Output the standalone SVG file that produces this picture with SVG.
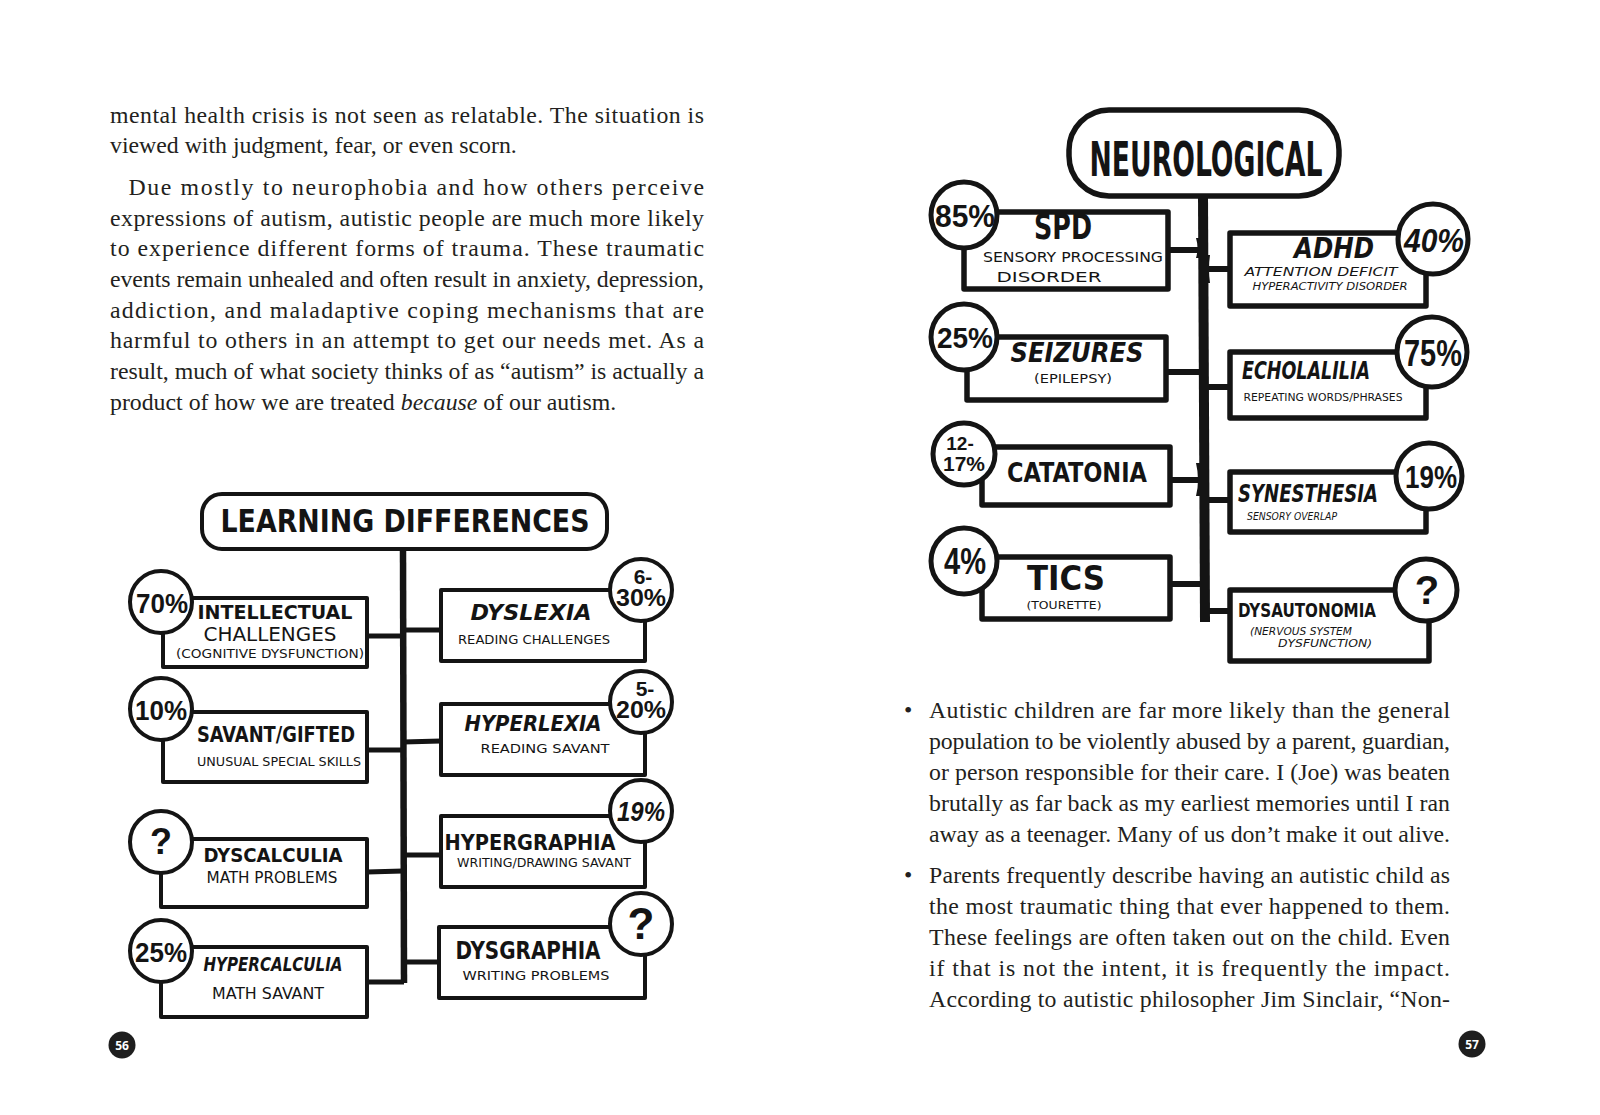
<svg xmlns="http://www.w3.org/2000/svg" width="1600" height="1115" viewBox="0 0 1600 1115">
<style>
.page{fill:#ffffff}
.body{font-family:"Liberation Serif","Times New Roman",serif;font-size:23.8px;fill:#231f20}
.box{fill:#ffffff;stroke:#141414;stroke-width:4;stroke-linejoin:round}
.rbox{fill:#ffffff;stroke:#141414;stroke-width:5.5;stroke-linejoin:round}
.badge{fill:#ffffff;stroke:#141414;stroke-width:4}
.rbadge{fill:#ffffff;stroke:#141414;stroke-width:5}
.conn{fill:none;stroke:#141414;stroke-linecap:butt}
.h{font-family:"DejaVu Sans Condensed","Liberation Sans Narrow","DejaVu Sans",sans-serif;font-weight:bold;fill:#141414;text-anchor:middle}
.s{font-family:"DejaVu Sans Condensed","Liberation Sans Narrow","DejaVu Sans",sans-serif;font-weight:normal;fill:#141414;text-anchor:middle}
.pc{font-family:"Liberation Sans","DejaVu Sans",sans-serif;font-weight:bold;fill:#141414;text-anchor:middle}
.pn{fill:#1e1e1e}
.pnt{font-family:"Open Sans","Liberation Sans",sans-serif;font-weight:bold;font-size:12px;fill:#ffffff;text-anchor:middle}
</style>
<rect class="page" x="0" y="0" width="1600" height="1115"/>

<!-- Left page body text -->
<g id="left-text" class="body">
<text x="110" y="123" textLength="594" lengthAdjust="spacing">mental health crisis is not seen as relatable. The situation is</text>
<text x="110" y="153">viewed with judgment, fear, or even scorn.</text>
<text x="128.5" y="195" textLength="575.5" lengthAdjust="spacing">Due mostly to neurophobia and how others perceive</text>
<text x="110" y="225.5" textLength="594" lengthAdjust="spacing">expressions of autism, autistic people are much more likely</text>
<text x="110" y="256" textLength="594" lengthAdjust="spacing">to experience different forms of trauma. These traumatic</text>
<text x="110" y="286.5" textLength="594" lengthAdjust="spacing">events remain unhealed and often result in anxiety, depression,</text>
<text x="110" y="317.5" textLength="594" lengthAdjust="spacing">addiction, and maladaptive coping mechanisms that are</text>
<text x="110" y="348" textLength="594" lengthAdjust="spacing">harmful to others in an attempt to get our needs met. As a</text>
<text x="110" y="379" textLength="594" lengthAdjust="spacing">result, much of what society thinks of as “autism” is actually a</text>
<text x="110" y="410">product of how we are treated <tspan font-style="italic">because</tspan> of our autism.</text>
</g>

<!-- Right page body text -->
<g id="right-text" class="body">
<text x="904" y="718">•</text>
<text x="929" y="718" textLength="521" lengthAdjust="spacing">Autistic children are far more likely than the general</text>
<text x="929" y="749" textLength="521" lengthAdjust="spacing">population to be violently abused by a parent, guardian,</text>
<text x="929" y="780" textLength="521" lengthAdjust="spacing">or person responsible for their care. I (Joe) was beaten</text>
<text x="929" y="811" textLength="521" lengthAdjust="spacing">brutally as far back as my earliest memories until I ran</text>
<text x="929" y="842" textLength="521" lengthAdjust="spacing">away as a teenager. Many of us don’t make it out alive.</text>
<text x="904" y="883">•</text>
<text x="929" y="883" textLength="521" lengthAdjust="spacing">Parents frequently describe having an autistic child as</text>
<text x="929" y="914" textLength="521" lengthAdjust="spacing">the most traumatic thing that ever happened to them.</text>
<text x="929" y="945" textLength="521" lengthAdjust="spacing">These feelings are often taken out on the child. Even</text>
<text x="929" y="976" textLength="521" lengthAdjust="spacing">if that is not the intent, it is frequently the impact.</text>
<text x="929" y="1007" textLength="521" lengthAdjust="spacing">According to autistic philosopher Jim Sinclair, “Non-</text>
</g>

<!-- Connectors -->
<g id="connectors">
<path class="conn" stroke-width="6.5" d="M403 549 L404 983"/>
<path class="conn" stroke-width="5" d="M367 636 L403 636"/>
<path class="conn" stroke-width="5" d="M367 750 L403 750"/>
<path class="conn" stroke-width="5" d="M367 872 L403 871"/>
<path class="conn" stroke-width="5" d="M367 982 L404 982"/>
<path class="conn" stroke-width="5" d="M403 630 L441 630"/>
<path class="conn" stroke-width="5" d="M403 742 L441 741"/>
<path class="conn" stroke-width="5" d="M403 855 L441 855"/>
<path class="conn" stroke-width="5" d="M404 962 L439 962"/>
<path class="conn" stroke-width="10" d="M1203 196 L1205 622"/>
<path class="conn" stroke-width="6" d="M1168 250 L1203 250"/>
<path class="conn" stroke-width="6" d="M1166 372 L1204 372"/>
<path class="conn" stroke-width="6" d="M1170 480 L1204 480"/>
<path class="conn" stroke-width="6" d="M1170 584 L1205 584"/>
<path class="conn" stroke-width="6" d="M1204 269 L1230 269"/>
<path class="conn" stroke-width="6" d="M1204 387 L1230 387"/>
<path class="conn" stroke-width="6" d="M1204 500 L1230 500"/>
<path class="conn" stroke-width="6" d="M1205 611 L1230 611"/>
<path fill="#141414" d="M1196 238 Q1199 248 1196 258 L1200 258 L1200 238 Z M1196 463 Q1200 480 1196 496 L1200 496 L1200 463 Z M1210 255 Q1208 269 1210 283 L1206 283 L1206 255 Z"/>
</g>

<!-- Learning Differences diagram -->
<g id="learning-differences">
<rect class="box" x="202" y="494" width="405" height="55" rx="20"/>
<text class="h" x="405" y="532" font-size="32" textLength="369" lengthAdjust="spacingAndGlyphs">LEARNING DIFFERENCES</text>
</g>

<g id="intellectual-challenges">
<rect class="box" x="163" y="598" width="204" height="69"/>
<text class="h" x="275" y="619" font-size="20" textLength="155" lengthAdjust="spacingAndGlyphs">INTELLECTUAL</text>
<text class="s" x="270" y="641" font-size="19" textLength="133" lengthAdjust="spacingAndGlyphs">CHALLENGES</text>
<text class="s" x="270" y="658" font-size="13" textLength="188" lengthAdjust="spacingAndGlyphs">(COGNITIVE DYSFUNCTION)</text>
<circle class="badge" cx="161" cy="602" r="31"/>
<text class="pc" x="162" y="613" font-size="28" textLength="52" lengthAdjust="spacingAndGlyphs">70%</text>
</g>

<g id="savant-gifted">
<rect class="box" x="163" y="712" width="204" height="70"/>
<text class="h" x="276" y="742" font-size="22" textLength="158" lengthAdjust="spacingAndGlyphs">SAVANT/GIFTED</text>
<text class="s" x="279" y="766" font-size="13" textLength="164" lengthAdjust="spacingAndGlyphs">UNUSUAL SPECIAL SKILLS</text>
<circle class="badge" cx="161" cy="709" r="31"/>
<text class="pc" x="161" y="720" font-size="28" textLength="52" lengthAdjust="spacingAndGlyphs">10%</text>
</g>

<g id="dyscalculia">
<rect class="box" x="161" y="839" width="206" height="68"/>
<text class="h" x="273" y="862" font-size="20" textLength="139" lengthAdjust="spacingAndGlyphs">DYSCALCULIA</text>
<text class="s" x="272" y="883" font-size="15" textLength="131" lengthAdjust="spacingAndGlyphs">MATH PROBLEMS</text>
<circle class="badge" cx="161" cy="842" r="31"/>
<text class="pc" x="161" y="854" font-size="36">?</text>
</g>

<g id="hypercalculia">
<rect class="box" x="161" y="947" width="206" height="70"/>
<text class="h" x="273" y="971" font-size="20" font-style="italic" textLength="139" lengthAdjust="spacingAndGlyphs">HYPERCALCULIA</text>
<text class="s" x="268" y="999" font-size="16" textLength="112" lengthAdjust="spacingAndGlyphs">MATH SAVANT</text>
<circle class="badge" cx="161" cy="951" r="31"/>
<text class="pc" x="161" y="962" font-size="28" textLength="52" lengthAdjust="spacingAndGlyphs">25%</text>
</g>

<g id="dyslexia">
<rect class="box" x="441" y="590" width="204" height="71"/>
<text class="h" x="531" y="620" font-size="22" font-style="italic" textLength="121" lengthAdjust="spacingAndGlyphs">DYSLEXIA</text>
<text class="s" x="534" y="644" font-size="13" textLength="152" lengthAdjust="spacingAndGlyphs">READING CHALLENGES</text>
<circle class="badge" cx="641" cy="590" r="31"/>
<text class="pc" x="643" y="584" font-size="21">6-</text>
<text class="pc" x="641" y="606" font-size="23" textLength="50" lengthAdjust="spacingAndGlyphs">30%</text>
</g>

<g id="hyperlexia">
<rect class="box" x="441" y="704" width="204" height="71"/>
<text class="h" x="533" y="731" font-size="22" font-style="italic" textLength="137" lengthAdjust="spacingAndGlyphs">HYPERLEXIA</text>
<text class="s" x="545" y="753" font-size="13" textLength="129" lengthAdjust="spacingAndGlyphs">READING SAVANT</text>
<circle class="badge" cx="641" cy="702" r="31"/>
<text class="pc" x="645" y="696" font-size="21">5-</text>
<text class="pc" x="641" y="718" font-size="23" textLength="50" lengthAdjust="spacingAndGlyphs">20%</text>
</g>

<g id="hypergraphia">
<rect class="box" x="441" y="816" width="204" height="71"/>
<text class="h" x="530" y="850" font-size="22" textLength="171" lengthAdjust="spacingAndGlyphs">HYPERGRAPHIA</text>
<text class="s" x="544" y="867" font-size="12" textLength="174" lengthAdjust="spacingAndGlyphs">WRITING/DRAWING SAVANT</text>
<circle class="badge" cx="641" cy="811" r="31"/>
<text class="pc" x="641" y="821" font-size="27" font-style="italic" textLength="48" lengthAdjust="spacingAndGlyphs">19%</text>
</g>

<g id="dysgraphia">
<rect class="box" x="439" y="927" width="206" height="71"/>
<text class="h" x="528" y="959" font-size="24" textLength="145" lengthAdjust="spacingAndGlyphs">DYSGRAPHIA</text>
<text class="s" x="536" y="980" font-size="13" textLength="147" lengthAdjust="spacingAndGlyphs">WRITING PROBLEMS</text>
<circle class="badge" cx="641" cy="924" r="31"/>
<text class="pc" x="641" y="939" font-size="44">?</text>
</g>

<!-- Neurological diagram -->
<g id="neurological">
<rect class="rbox" x="1069" y="110" width="270" height="86" rx="40" stroke-width="6"/>
<text class="h" x="1206" y="176" font-size="48" textLength="233" lengthAdjust="spacingAndGlyphs">NEUROLOGICAL</text>
</g>

<g id="spd">
<rect class="rbox" x="964" y="212" width="204" height="77"/>
<text class="h" x="1063" y="239" font-size="35" textLength="58" lengthAdjust="spacingAndGlyphs">SPD</text>
<text class="s" x="1073" y="262" font-size="14" textLength="180" lengthAdjust="spacingAndGlyphs">SENSORY PROCESSING</text>
<text class="s" x="1049" y="282" font-size="14" textLength="105" lengthAdjust="spacingAndGlyphs">DISORDER</text>
<circle class="rbadge" cx="964" cy="215" r="33"/>
<text class="pc" x="965" y="227" font-size="32" font-weight="normal" textLength="60" lengthAdjust="spacingAndGlyphs">85%</text>
</g>

<g id="seizures">
<rect class="rbox" x="967" y="337" width="199" height="63"/>
<text class="h" x="1077" y="362" font-size="26" font-style="italic" textLength="133" lengthAdjust="spacingAndGlyphs">SEIZURES</text>
<text class="s" x="1073" y="383" font-size="13" textLength="78" lengthAdjust="spacingAndGlyphs">(EPILEPSY)</text>
<circle class="rbadge" cx="964" cy="337" r="33"/>
<text class="pc" x="965" y="348" font-size="29" font-weight="normal" textLength="56" lengthAdjust="spacingAndGlyphs">25%</text>
</g>

<g id="catatonia">
<rect class="rbox" x="982" y="447" width="188" height="58"/>
<text class="h" x="1077" y="482" font-size="26" textLength="140" lengthAdjust="spacingAndGlyphs">CATATONIA</text>
<circle class="rbadge" cx="964" cy="454" r="31"/>
<text class="pc" x="960" y="450" font-size="19" font-weight="normal">12-</text>
<text class="pc" x="964" y="471" font-size="21" font-weight="normal" textLength="42" lengthAdjust="spacingAndGlyphs">17%</text>
</g>

<g id="tics">
<rect class="rbox" x="982" y="557" width="188" height="62"/>
<text class="h" x="1066" y="590" font-size="34" textLength="78" lengthAdjust="spacingAndGlyphs">TICS</text>
<text class="s" x="1064" y="609" font-size="11" textLength="75" lengthAdjust="spacingAndGlyphs">(TOURETTE)</text>
<circle class="rbadge" cx="964" cy="561" r="33"/>
<text class="pc" x="965" y="574" font-size="36" font-weight="normal" textLength="42" lengthAdjust="spacingAndGlyphs">4%</text>
</g>

<g id="adhd">
<rect class="rbox" x="1230" y="233" width="196" height="73"/>
<text class="h" x="1334" y="258" font-size="28" font-style="italic" textLength="80" lengthAdjust="spacingAndGlyphs">ADHD</text>
<text class="s" x="1321" y="276" font-size="13" font-style="italic" textLength="153" lengthAdjust="spacingAndGlyphs">ATTENTION DEFICIT</text>
<text class="s" x="1330" y="290" font-size="11" font-style="italic" textLength="155" lengthAdjust="spacingAndGlyphs">HYPERACTIVITY DISORDER</text>
<circle class="rbadge" cx="1433" cy="239" r="35"/>
<text class="pc" x="1434" y="252" font-size="34" font-weight="normal" font-style="italic" textLength="60" lengthAdjust="spacingAndGlyphs">40%</text>
</g>

<g id="echolalilia">
<rect class="rbox" x="1230" y="352" width="196" height="66"/>
<text class="h" x="1306" y="379" font-size="24" font-style="italic" textLength="128" lengthAdjust="spacingAndGlyphs">ECHOLALILIA</text>
<text class="s" x="1323" y="401" font-size="10" textLength="159" lengthAdjust="spacingAndGlyphs">REPEATING WORDS/PHRASES</text>
<circle class="rbadge" cx="1432" cy="352" r="35"/>
<text class="pc" x="1433" y="366" font-size="36" font-weight="normal" textLength="58" lengthAdjust="spacingAndGlyphs">75%</text>
</g>

<g id="synesthesia">
<rect class="rbox" x="1230" y="472" width="196" height="60"/>
<text class="h" x="1308" y="502" font-size="24" font-style="italic" textLength="140" lengthAdjust="spacingAndGlyphs">SYNESTHESIA</text>
<text class="s" x="1292" y="520" font-size="11" font-style="italic" textLength="90" lengthAdjust="spacingAndGlyphs">SENSORY OVERLAP</text>
<circle class="rbadge" cx="1429" cy="476" r="33"/>
<text class="pc" x="1431" y="488" font-size="32" font-weight="normal" textLength="52" lengthAdjust="spacingAndGlyphs">19%</text>
</g>

<g id="dysautonomia">
<rect class="rbox" x="1230" y="590" width="199" height="71"/>
<text class="h" x="1307" y="617" font-size="19" textLength="138" lengthAdjust="spacingAndGlyphs">DYSAUTONOMIA</text>
<text class="s" x="1301" y="635" font-size="11" font-style="italic" textLength="102" lengthAdjust="spacingAndGlyphs">(NERVOUS SYSTEM</text>
<text class="s" x="1325" y="647" font-size="11" font-style="italic" textLength="94" lengthAdjust="spacingAndGlyphs">DYSFUNCTION)</text>
<circle class="rbadge" cx="1426" cy="590" r="31"/>
<text class="pc" x="1427" y="604" font-size="40">?</text>
</g>

<!-- Page numbers -->
<g id="page-56">
<circle class="pn" cx="122" cy="1045" r="13.5"/>
<text class="pnt" x="122" y="1049.5">56</text>
</g>
<g id="page-57">
<circle class="pn" cx="1472" cy="1044" r="13.5"/>
<text class="pnt" x="1472" y="1048.5">57</text>
</g>
</svg>
